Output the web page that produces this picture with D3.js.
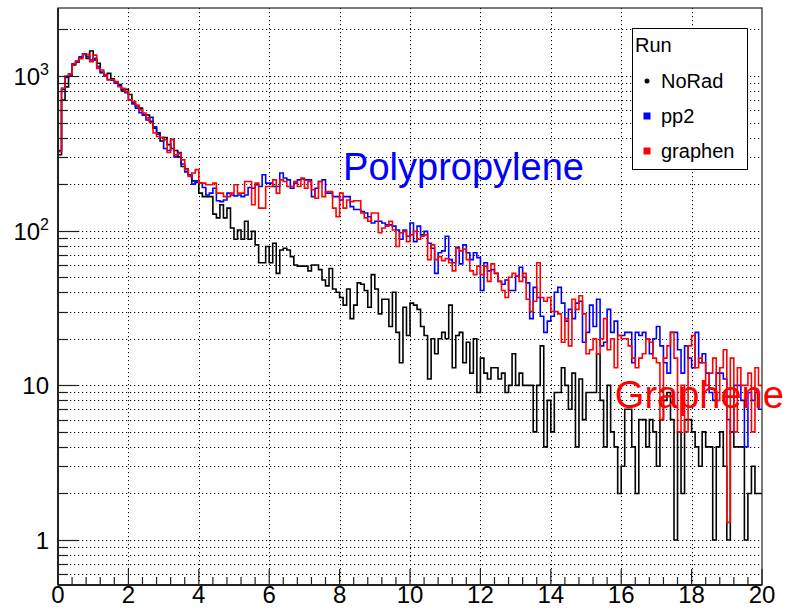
<!DOCTYPE html>
<html>
<head>
<meta charset="utf-8">
<script src="https://cdn.jsdelivr.net/npm/d3@7"></script>
<style>
  body { margin: 0; background: #fff; }
  svg { display: block; }
  text { font-family: "Liberation Sans", Arial, Helvetica, sans-serif; }
</style>
</head>
<body>
<svg id="chart" width="787" height="612"></svg>
<script>
// Histogram binning: 200 bins of width 0.1 from 0 to 20
const xMin = 0, xMax = 20, binWidth = 0.1;

// Axis ticks
const xTicks = [0, 2, 4, 6, 8, 10, 12, 14, 16, 18, 20];
const yDecades = [1, 10, 100, 1000];
const yTickLabels = [{base: "1", exp: ""}, {base: "10", exp: ""}, {base: "10", exp: "2"}, {base: "10", exp: "3"}];

// Series names and colours
const seriesNames = ["NoRad", "pp2", "graphen"];
const seriesColors = ["#000000", "#0000ff", "#ff0000"];

// Bin contents, NoRad
const noRad = [
  310, 700, 850, 1000, 1180, 1230, 1300, 1380, 1300, 1450,
  1270, 1210, 1050, 1000, 1040, 960, 920, 880, 800, 820,
  760, 680, 640, 620, 560, 560, 510, 460, 430, 380,
  400, 360, 340, 330, 300, 260, 250, 230, 210, 205,
  175, 166, 166, 166, 128, 121, 147, 121, 140, 104,
  88, 101, 88, 115, 88, 99, 81, 62, 62, 79,
  62, 83, 53, 75, 77, 75, 68, 60, 59, 59,
  59, 55, 60, 60, 56, 48, 44, 57, 42, 40,
  37, 33, 42, 27, 33, 46, 45, 41, 32, 52,
  42, 29, 36, 36, 24, 40, 22, 14, 32, 21,
  34, 33, 31, 24, 21, 11, 20, 16, 20, 22,
  20, 33, 13, 21, 22, 14, 19, 12, 20, 9,
  15, 12, 11, 13, 13, 11, 12, 9, 10, 16,
  10, 12, 10, 10, 10, 5, 10, 18, 4, 8,
  5, 9, 9, 13, 10, 7, 12, 4, 11, 6,
  9, 9, 9, 16, 8, 4, 10, 5, 4, 2,
  3, 7, 7, 4, 2, 6, 6, 4, 6, 5,
  3, 6, 8, 9, 6, 1, 5, 2, 6, 6,
  5, 4, 3, 5, 4, 4, 1, 4, 5, 3,
  1, 5, 4, 4, 4, 1, 2, 3, 2, 2
];

// Bin contents, pp2
const pp2 = [
  330, 820, 980, 1030, 1200, 1250, 1330, 1390, 1340, 1270,
  1300, 1150, 1060, 1020, 950, 940, 900, 870, 820, 780,
  700, 660, 620, 580, 560, 520, 540, 470, 420, 400,
  340, 330, 390, 300, 320, 270, 240, 230, 200, 210,
  203, 190, 170, 175, 188, 156, 154, 158, 175, 170,
  168, 170, 166, 170, 190, 188, 198, 193, 230, 203,
  203, 193, 193, 236, 219, 213, 188, 203, 213, 216,
  213, 213, 166, 188, 208, 213, 175, 175, 166, 166,
  158, 166, 166, 143, 137, 137, 133, 130, 123, 112,
  115, 115, 112, 109, 109, 107, 101, 88, 101, 92,
  112, 85, 107, 94, 99, 83, 77, 53, 72, 74,
  92, 65, 62, 78, 61, 81, 72, 65, 72, 67,
  41, 62, 55, 56, 53, 47, 45, 48, 41, 41,
  51, 58, 50, 46, 27, 43, 37, 28, 22, 26,
  28, 40, 43, 34, 26, 31, 27, 34, 35, 19,
  22, 33, 24, 36, 18, 19, 31, 22, 26, 21,
  21, 22, 22, 14, 22, 21, 22, 20, 16, 20,
  24, 18, 14, 12, 22, 22, 17, 12, 18, 15,
  13, 22, 14, 16, 12, 9, 8, 12, 12, 11,
  6, 5, 10, 10, 8, 4, 9, 8, 9, 7
];

// Bin contents, graphen
const graphen = [
  324, 837, 1000, 1025, 1195, 1237, 1300, 1387, 1380, 1237,
  1365, 1121, 1093, 1015, 942, 950, 919, 853, 834, 792,
  700, 683, 650, 604, 577, 536, 500, 428, 406, 400,
  387, 320, 387, 309, 315, 287, 248, 224, 236, 248,
  203, 203, 198, 198, 203, 175, 175, 166, 166, 175,
  198, 175, 175, 208, 208, 147, 203, 140, 140, 193,
  193, 213, 175, 213, 208, 193, 193, 208, 193, 219,
  188, 208, 184, 162, 208, 166, 179, 179, 140, 123,
  175, 140, 158, 154, 156, 156, 130, 121, 115, 130,
  130, 97, 104, 107, 115, 101, 79, 97, 99, 85,
  94, 99, 88, 92, 94, 65, 81, 65, 68, 64,
  66, 62, 55, 77, 74, 76, 65, 55, 52, 59,
  52, 59, 47, 61, 53, 47, 41, 37, 50, 53,
  51, 47, 53, 36, 30, 35, 62, 37, 35, 37,
  30, 30, 29, 19, 27, 18, 36, 31, 38, 29,
  16, 17, 20, 16, 20, 27, 17, 20, 13, 21,
  20, 20, 18, 15, 13, 15, 16, 20, 19, 15,
  14, 6, 15, 18, 22, 15, 5, 10, 5, 18,
  21, 13, 15, 14, 10, 12, 15, 8, 13, 17,
  1.3, 15, 5, 13, 10, 10, 12, 5, 13, 10
];

const seriesValues = [noRad, pp2, graphen];

// Free-floating annotations, anchored at their left baseline
const annotations = [
  {text: "Polypropylene", color: "#0000ff", x: 8.1, y: 213},
  {text: "Graphene", color: "#ff0000", x: 15.82, y: 7.15}
];

const svg = d3.select("#chart");
const margin = {left: 58, right: 25, top: 8, bottom: 27};
const W = 787, H = 612;

const x = d3.scaleLinear().domain([xMin, xMax]).range([margin.left, W - margin.right]);
const y = d3.scaleLog().domain([0.512, 2752]).range([H - margin.bottom, margin.top]);

const [x0, x1] = x.range();
const [yb, yt] = y.range();

svg.append("defs").append("clipPath").attr("id", "frameClip")
  .append("rect").attr("x", x0).attr("y", yt).attr("width", x1 - x0).attr("height", yb - yt);

// Grid: horizontal dotted lines at every log tick, vertical at major x ticks
const yGridVals = [];
for (let d = 0.1; d <= 1000; d *= 10) {
  for (let m = 1; m <= 9; m++) {
    const v = +(m * d).toPrecision(3);
    if (v >= y.domain()[0] && v <= y.domain()[1]) yGridVals.push(v);
  }
}
const grid = svg.append("g").attr("stroke", "#000").attr("stroke-width", 1)
  .attr("stroke-dasharray", "1.2,2.8").attr("fill", "none");
grid.selectAll("line.h").data(yGridVals).join("line").attr("class", "h")
  .attr("x1", x0).attr("x2", x1)
  .attr("y1", d => Math.round(y(d)) + 0.5).attr("y2", d => Math.round(y(d)) + 0.5);
grid.selectAll("line.v").data(xTicks.slice(1, -1)).join("line").attr("class", "v")
  .attr("x1", d => Math.round(x(d)) + 0.5).attr("x2", d => Math.round(x(d)) + 0.5)
  .attr("y1", yt).attr("y2", yb);

// Histograms drawn as steps
const stepLine = d3.line()
  .x(d => x(d[0]))
  .y(d => y(d[1]))
  .curve(d3.curveStepAfter);

const plot = svg.append("g").attr("clip-path", "url(#frameClip)");
seriesValues.forEach((vals, k) => {
  const pts = vals.map((v, i) => [xMin + i * binWidth, v]);
  pts.push([xMax, vals[vals.length - 1]]);
  plot.append("path")
    .datum(pts)
    .attr("d", stepLine)
    .attr("fill", "none")
    .attr("stroke", seriesColors[k])
    .attr("stroke-width", 1.6)
    .attr("stroke-linejoin", "miter");
});

// Frame
svg.append("rect").attr("x", x0).attr("y", yt).attr("width", x1 - x0).attr("height", yb - yt)
  .attr("fill", "none").attr("stroke", "#222").attr("stroke-width", 1.2);
svg.append("line").attr("x1", x0).attr("x2", x0).attr("y1", yt).attr("y2", yb)
  .attr("stroke", "#222").attr("stroke-width", 2);
svg.append("line").attr("x1", x0).attr("x2", x1).attr("y1", yb).attr("y2", yb)
  .attr("stroke", "#222").attr("stroke-width", 2);

// X axis ticks (pointing inward)
const xMinor = d3.range(0, 20.001, 0.4).map(v => +v.toFixed(1));
const ticks = svg.append("g").attr("stroke", "#222").attr("stroke-width", 1.2);
ticks.selectAll("line.xm").data(xMinor).join("line")
  .attr("x1", d => x(d)).attr("x2", d => x(d))
  .attr("y1", yb).attr("y2", d => xTicks.includes(d) ? yb - 16 : yb - 8);

// Y axis ticks
ticks.selectAll("line.ym").data(yGridVals).join("line")
  .attr("x1", x0).attr("x2", d => yDecades.includes(d) ? x0 + 20 : x0 + 10)
  .attr("y1", d => Math.round(y(d)) + 0.5).attr("y2", d => Math.round(y(d)) + 0.5);

// Tick labels
const labelSize = 24;
svg.append("g").selectAll("text").data(xTicks).join("text")
  .attr("x", d => x(d)).attr("y", 603)
  .attr("text-anchor", "middle")
  .attr("font-size", labelSize)
  .text(d => String(d));

const yl = svg.append("g").selectAll("text").data(yDecades).join("text")
  .attr("x", 49).attr("y", d => y(d) + 9)
  .attr("text-anchor", "end")
  .attr("font-size", labelSize);
yl.each(function(d, i) {
  const t = d3.select(this);
  t.append("tspan").text(yTickLabels[i].base);
  if (yTickLabels[i].exp) {
    t.append("tspan").attr("font-size", 16).attr("dy", -10).text(yTickLabels[i].exp);
  }
});

// Annotations
svg.append("g").selectAll("text").data(annotations).join("text")
  .attr("x", d => x(d.x)).attr("y", d => y(d.y))
  .attr("fill", d => d.color)
  .attr("font-size", 38)
  .text(d => d.text);

// Legend
const lg = svg.append("g");
lg.append("rect").attr("x", 632.5).attr("y", 28.5).attr("width", 115).attr("height", 141)
  .attr("fill", "#fff").attr("stroke", "#000").attr("stroke-width", 1);
lg.append("text").attr("x", 635).attr("y", 52).attr("font-size", 20).text("Run");
const entryY = [81, 116, 151];
seriesNames.forEach((name, k) => {
  if (k === 0) {
    lg.append("circle").attr("cx", 647).attr("cy", entryY[k]).attr("r", 2.5).attr("fill", seriesColors[k]);
  } else {
    lg.append("rect").attr("x", 643.5).attr("y", entryY[k] - 3.5).attr("width", 7).attr("height", 7)
      .attr("fill", seriesColors[k]);
  }
  lg.append("text").attr("x", 661).attr("y", entryY[k] + 7).attr("font-size", 20).text(name);
});
</script>
</body>
</html>
